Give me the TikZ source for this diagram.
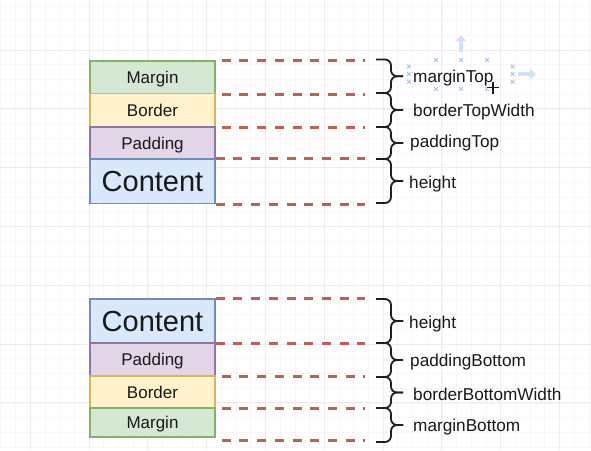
\documentclass[tikz,border=0pt]{standalone}
\usepackage{fontspec}
\setmainfont{Liberation Sans}
\usetikzlibrary{arrows.meta}

\definecolor{gridminor}{HTML}{F8F6F8}
\definecolor{gridmajor}{HTML}{EFEBEF}
\definecolor{mfill}{HTML}{D5E8D4}\definecolor{mline}{HTML}{82B366}
\definecolor{bfill}{HTML}{FFF2CC}\definecolor{bline}{HTML}{D6B656}
\definecolor{pfill}{HTML}{E1D5E7}\definecolor{pline}{HTML}{9673A6}
\definecolor{cfill}{HTML}{DAE8FC}\definecolor{cline}{HTML}{6C8EBF}
\definecolor{guidered}{HTML}{BF5F58}
\definecolor{handleblue}{HTML}{9CC6EE}
\definecolor{arrowblue}{HTML}{CFE3F7}

\tikzset{
  layer/.style={draw, line width=1.5pt, minimum width=125pt, inner sep=0pt,
    text height=12.2pt, text depth=0pt, text=black!90,
    font=\fontsize{17}{17}\selectfont},
  marginbox/.style={layer, fill=mfill, draw=mline},
  borderbox/.style={layer, fill=bfill, draw=bline},
  paddingbox/.style={layer, fill=pfill, draw=pline},
  contentbox/.style={layer, fill=cfill, draw=cline, text height=20.8pt,
    font=\fontsize{29}{29}\selectfont},
  guide/.style={draw=guidered, line width=3.2pt, dash pattern=on 9pt off 8.7pt},
  curly/.style={line width=1.8pt, rounded corners=6pt, draw=black!88},
  sidelabel/.style={anchor=base west, inner sep=0pt, text=black!90,
    font=\fontsize{17.2}{17.2}\selectfont},
  handle/.style={draw=handleblue, line width=0.9pt},
  movearrow/.style={draw=arrowblue, line width=3.5pt,
    -{Triangle[length=6pt,width=10pt]}},
}

% curly brace between two heights, tip pointing right
\newcommand{\curlybrace}[2]{%
  \draw[curly] (376,#1) -- (391,#1) -- (391,{(#1+#2)/2}) -- (403,{(#1+#2)/2});
  \draw[curly] (403,{(#1+#2)/2}) -- (391,{(#1+#2)/2}) -- (391,#2) -- (376,#2);}

\begin{document}
\begin{tikzpicture}[x=1pt, y=-1pt]
\useasboundingbox (0,0) rectangle (591,450);
\fill[white] (0,0) rectangle (591,450);

% background grid
\foreach \i in {0,...,40} \draw[gridminor, line width=0.6pt] ({0.8+14.7*\i},0) -- ({0.8+14.7*\i},450);
\foreach \j in {0,...,30} \draw[gridminor, line width=0.6pt] (0,{5.9+14.7*\j}) -- (591,{5.9+14.7*\j});
\foreach \k in {-1,...,8} \draw[gridmajor, line width=0.7pt] ({89+58.8*\k},0) -- ({89+58.8*\k},450);
\foreach \k in {0,...,6} \draw[gridmajor, line width=0.7pt] (0,{50+58.8*\k}) -- (591,{50+58.8*\k});

\coordinate (edge) at (365,0);

% ---- top stack ----
\node[marginbox,  minimum height=32.5pt] (mt) at (152.5,77.25) {Margin};
\node[borderbox,  minimum height=33.5pt] (bt) at (152.5,110.25) {Border};
\node[paddingbox, minimum height=32pt]   (pt) at (152.5,143) {Padding};
\node[contentbox, minimum height=44.5pt] (ct) at (152.5,181.25) {Content};

\coordinate (g1) at ([xshift=6pt]mt.north east);
\coordinate (g2) at ([xshift=6pt]mt.south east);
\coordinate (g3) at ([xshift=6pt]bt.south east);
\coordinate (g4) at (ct.north east);
\coordinate (g5) at (ct.south east);
\foreach \g in {g1,g2,g3,g4,g5} \draw[guide] (\g) -- (\g -| edge);

\curlybrace{59.5}{93}
\curlybrace{93}{127}
\curlybrace{127}{159}
\curlybrace{159}{203}

\node[sidelabel] (lmt) at (413,82) {marginTop};
\node[sidelabel] (lbt) at (413,116.7) {borderTopWidth};
\node[sidelabel] (lpt) at (410,147.3) {paddingTop};
\node[sidelabel] (lht) at (409,188.3) {height};

% ---- bottom stack ----
\node[contentbox, minimum height=44pt] (cb) at (152.5,321) {Content};
\node[paddingbox, minimum height=33pt] (pb) at (152.5,359.5) {Padding};
\node[borderbox,  minimum height=32pt] (bb) at (152.5,392) {Border};
\node[marginbox,  minimum height=29pt] (mb) at (152.5,422.5) {Margin};

\coordinate (h1) at (cb.north east);
\coordinate (h2) at (cb.south east);
\coordinate (h3) at ([xshift=6pt]pb.south east);
\coordinate (h4) at ([xshift=6pt]bb.south east);
\coordinate (h5) at ([xshift=6pt,yshift=-3pt]mb.south east);
\foreach \g in {h1,h2,h3,h4,h5} \draw[guide] (\g) -- (\g -| edge);

\curlybrace{299}{343}
\curlybrace{343}{377}
\curlybrace{377}{408}
\curlybrace{408}{442}

\node[sidelabel] (lhb) at (409,328.3) {height};
\node[sidelabel] (lpb) at (410,366) {paddingBottom};
\node[sidelabel] (lbb) at (413,400) {borderBottomWidth};
\node[sidelabel] (lmb) at (413,431) {marginBottom};

% selection handles around the marginTop label
\foreach \p in {(436,60),(461,60),(487,60),(436,89),(461,89),(487,89),
                (409,66.5),(409,74),(409,81.7),(512.5,66.5),(512.5,74),(512.5,81.7)}
  \draw[handle] \p ++(-1.8,-1.8) -- ++(3.6,3.6) ++(0,-3.6) -- ++(-3.6,3.6);
\draw[movearrow] (461,52) -- (461,35);
\draw[movearrow] (518,74) -- (536,74);

% move cursor
\draw[white, line width=3pt] (486.5,87.5) -- (499.5,87.5) (493,81) -- (493,94);
\draw[black!90, line width=1.4pt] (487,87.5) -- (499,87.5) (493,81.5) -- (493,93.5);
\end{tikzpicture}
\end{document}
